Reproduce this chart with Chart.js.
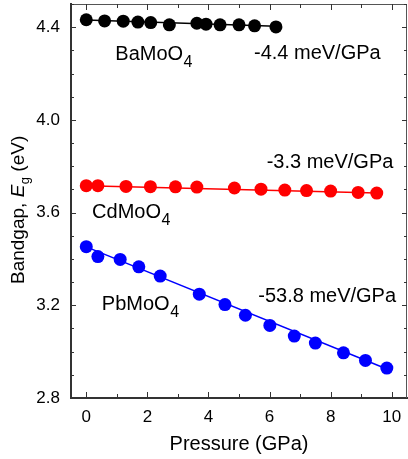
<!DOCTYPE html>
<html>
<head>
<meta charset="utf-8">
<script src="https://cdn.jsdelivr.net/npm/chart.js@4/dist/chart.umd.min.js"></script>
<style>
html,body{margin:0;padding:0;background:#fff;}
#wrap{width:408px;height:459px;position:relative;}
</style>
</head>
<body>
<div id="wrap"><canvas id="c" width="408" height="459"></canvas></div>
<script>
// ---- data ----
const baP = [0, 0.6, 1.21, 1.69, 2.11, 2.72, 3.62, 3.92, 4.38, 5.0, 5.51, 6.21];
const baE = [4.432, 4.427, 4.426, 4.422, 4.420, 4.410, 4.417, 4.413, 4.410, 4.410, 4.406, 4.401];
const cdP = [0, 0.38, 1.3, 2.1, 2.92, 3.62, 4.85, 5.72, 6.5, 7.21, 8.0, 8.9, 9.51];
const cdE = [3.716, 3.716, 3.713, 3.712, 3.711, 3.710, 3.706, 3.701, 3.697, 3.695, 3.693, 3.687, 3.684];
const pbP = [0, 0.38, 1.11, 1.72, 2.42, 3.7, 4.54, 5.21, 6.01, 6.81, 7.5, 8.42, 9.14, 9.84];
const pbE = [3.453, 3.410, 3.398, 3.366, 3.326, 3.248, 3.203, 3.157, 3.113, 3.067, 3.037, 2.995, 2.962, 2.929];
// linear fit end points
const baFitP = [0, 6.21];   const baFitE = [4.431, 4.404];
const cdFitP = [0, 9.51];   const cdFitE = [3.716, 3.685];
const pbFitP = [0, 9.84];   const pbFitE = [3.452, 2.925];
const xTickVals = [0, 2, 4, 6, 8, 10];
const yTickVals = [2.8, 3.2, 3.6, 4.0, 4.4];
const seriesNames = ['BaMoO', 'CdMoO', 'PbMoO'];
const slopeLabels = ['-4.4 meV/GPa', '-3.3 meV/GPa', '-53.8 meV/GPa'];
// annotation anchors in data units [pressure, bandgap]
const nameAnchors = [[0.95, 4.257], [0.19, 3.577], [0.51, 3.181]];
const slopeAnchors = [[5.49, 4.261], [5.905, 3.792], [5.63, 3.214]];

const FONT = '"Liberation Sans", Arial, Helvetica, sans-serif';
const zip = (xs, ys) => xs.map((x, i) => ({x: x, y: ys[i]}));

const decor = {
  id: 'decor',
  afterDraw(chart) {
    const ctx = chart.ctx;
    const xs = chart.scales.x, ys = chart.scales.y;
    const a = chart.chartArea;
    ctx.save();
    // top & right frame
    ctx.strokeStyle = '#555';
    ctx.lineWidth = 1;
    ctx.beginPath();
    ctx.moveTo(a.left, a.top + 0.5); ctx.lineTo(a.right, a.top + 0.5);
    ctx.moveTo(a.right - 0.5, a.top); ctx.lineTo(a.right - 0.5, a.bottom);
    ctx.stroke();
    // inward ticks
    ctx.strokeStyle = '#333';
    ctx.beginPath();
    for (let v = Math.ceil(xs.min); v <= xs.max + 1e-9; v += 1) {
      const px = Math.round(xs.getPixelForValue(v)) + 0.5;
      const major = Math.abs(v % 2) < 1e-9;
      const L = major ? 6 : 4;
      ctx.moveTo(px, a.bottom); ctx.lineTo(px, a.bottom - L);
      ctx.moveTo(px, a.top); ctx.lineTo(px, a.top + L);
    }
    for (let k = Math.ceil(ys.min * 10 - 1e-9); k <= Math.floor(ys.max * 10 + 1e-9); k++) {
      const py = Math.round(ys.getPixelForValue(k / 10)) + 0.5;
      const major = (k % 4) === 0;
      const L = major ? 5 : 3;
      ctx.moveTo(a.left, py); ctx.lineTo(a.left + L, py);
      ctx.moveTo(a.right, py); ctx.lineTo(a.right - L, py);
    }
    ctx.stroke();

    // annotations
    ctx.fillStyle = '#000';
    ctx.textBaseline = 'alphabetic';
    ctx.textAlign = 'left';
    seriesNames.forEach((n, i) => {
      const px = xs.getPixelForValue(nameAnchors[i][0]);
      const py = ys.getPixelForValue(nameAnchors[i][1]);
      ctx.font = '20px ' + FONT;
      ctx.fillText(n, px, py);
      const w = ctx.measureText(n).width;
      ctx.font = '16px ' + FONT;
      ctx.fillText('4', px + w + 0.5, py + 7);
    });
    ctx.font = '20px ' + FONT;
    slopeLabels.forEach((s, i) => {
      const px = xs.getPixelForValue(slopeAnchors[i][0]);
      const py = ys.getPixelForValue(slopeAnchors[i][1]);
      ctx.fillText(s, px, py);
    });

    // y axis title with italic E and subscript g
    ctx.save();
    ctx.translate(23.5, 284);
    ctx.rotate(-Math.PI / 2);
    let x = 0;
    ctx.font = '19px ' + FONT;
    ctx.fillText('Bandgap, ', x, 0); x += ctx.measureText('Bandgap, ').width;
    ctx.font = 'italic 19px ' + FONT;
    ctx.fillText('E', x, 0); x += ctx.measureText('E').width;
    ctx.font = '13px ' + FONT;
    ctx.fillText('g', x + 0.5, 5); x += ctx.measureText('g').width + 0.5;
    ctx.font = '19px ' + FONT;
    ctx.fillText(' (eV)', x, 0);
    ctx.restore();
    ctx.restore();
  }
};

new Chart(document.getElementById('c'), {
  type: 'scatter',
  data: {
    datasets: [
      {label: 'BaMoO4 fit', data: zip(baFitP, baFitE), showLine: true, borderColor: '#000', borderWidth: 1.5, pointRadius: 0, order: 2},
      {label: 'CdMoO4 fit', data: zip(cdFitP, cdFitE), showLine: true, borderColor: '#ff0000', borderWidth: 1.5, pointRadius: 0, order: 2},
      {label: 'PbMoO4 fit', data: zip(pbFitP, pbFitE), showLine: true, borderColor: '#0000ff', borderWidth: 1.5, pointRadius: 0, order: 2},
      {label: 'BaMoO4', data: zip(baP, baE), backgroundColor: '#000', borderColor: '#000', borderWidth: 0, pointRadius: 6.5, order: 1},
      {label: 'CdMoO4', data: zip(cdP, cdE), backgroundColor: '#ff0000', borderColor: '#ff0000', borderWidth: 0, pointRadius: 6.5, order: 1},
      {label: 'PbMoO4', data: zip(pbP, pbE), backgroundColor: '#0000ff', borderColor: '#0000ff', borderWidth: 0, pointRadius: 6.5, order: 1}
    ]
  },
  options: {
    responsive: false,
    animation: false,
    events: [],
    layout: {autoPadding: false, padding: {top: 4, right: 1, left: 0, bottom: 0}},
    plugins: {legend: {display: false}, tooltip: {enabled: false}},
    scales: {
      x: {
        type: 'linear', min: -0.5, max: 10.5,
        afterBuildTicks: s => { s.ticks = xTickVals.map(v => ({value: v})); },
        afterFit: s => { s.height = 61; s.paddingLeft = 0; s.paddingRight = 0; },
        grid: {display: false, drawTicks: false},
        border: {display: true, color: '#333', width: 2},
        ticks: {color: '#000', font: {family: FONT, size: 17}, padding: 9, maxRotation: 0, callback: v => String(v)},
        title: {display: true, text: 'Pressure (GPa)', color: '#000', font: {family: FONT, size: 20}, padding: {top: 0, bottom: 3}}
      },
      y: {
        type: 'linear', min: 2.8, max: 4.5,
        afterBuildTicks: s => { s.ticks = yTickVals.map(v => ({value: v})); },
        afterFit: s => { s.width = 71; s.paddingTop = 0; s.paddingBottom = 0; },
        grid: {display: false, drawTicks: false},
        border: {display: true, color: '#333', width: 2},
        ticks: {color: '#000', font: {family: FONT, size: 17}, padding: 11, callback: v => Number(v).toFixed(1)}
      }
    }
  },
  plugins: [decor]
});
</script>
</body>
</html>
